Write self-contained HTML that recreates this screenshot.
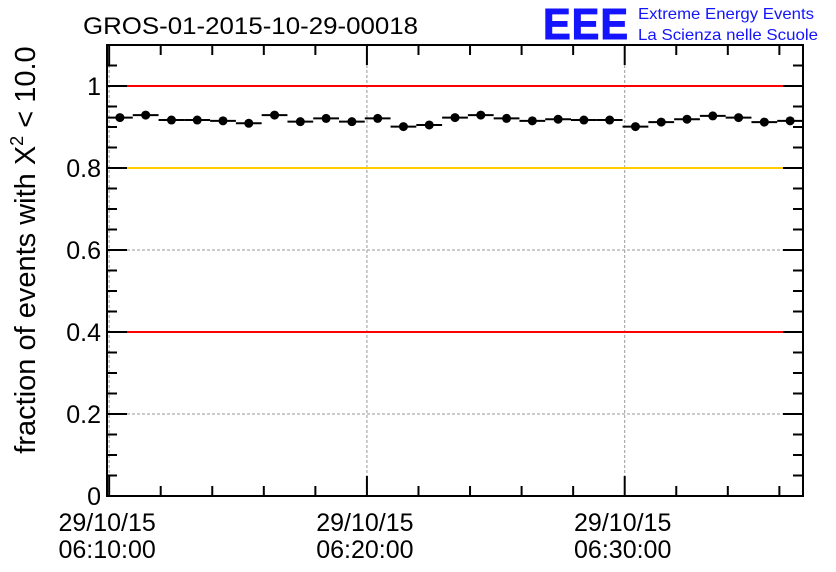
<!DOCTYPE html>
<html><head><meta charset="utf-8"><style>
body{margin:0;background:#fff;}
svg{display:block;font-family:"Liberation Sans",sans-serif;}
</style></head><body>
<svg id="chart" width="836" height="572" viewBox="0 0 836 572">
<text x="83" y="34" font-size="24.5" textLength="335" lengthAdjust="spacingAndGlyphs">GROS-01-2015-10-29-00018</text>
<g>
<text x="543" y="39" font-size="44" font-weight="bold" fill="#1414ff" stroke="#1414ff" stroke-width="1" letter-spacing="1" textLength="86" lengthAdjust="spacingAndGlyphs">EEE</text>
<text x="638" y="19" font-size="16" fill="#1414ff" textLength="176" lengthAdjust="spacingAndGlyphs">Extreme Energy Events</text>
<text x="638" y="40" font-size="16" fill="#1414ff" textLength="180" lengthAdjust="spacingAndGlyphs">La Scienza nelle Scuole</text>
</g>
<text transform="translate(35,250) rotate(-90)" text-anchor="middle" font-size="29">fraction of events with Χ<tspan dy="-12" font-size="18">2</tspan><tspan dy="12"> &lt; 10.0</tspan></text>
<g id="grid"></g><g id="refs"></g><g id="marks"></g><g id="axes"></g>
</svg>
<script>
const values=[0.923,0.929,0.917,0.917,0.915,0.909,0.929,0.913,0.921,0.913,0.921,0.901,0.905,0.923,0.929,0.921,0.915,0.919,0.917,0.917,0.901,0.912,0.919,0.927,0.923,0.912,0.915];
const yTicks=[0,0.2,0.4,0.6,0.8,1];
const yTickLabels=["0","0.2","0.4","0.6","0.8","1"];
const xTicks=[600,1200,1800];
const xTickLabels=[["29/10/15","06:10:00"],["29/10/15","06:20:00"],["29/10/15","06:30:00"]];
const refLines=[1.0,0.8,0.4];
const refColors=["#ff0000","#ffcc00","#ff0000"];
const binStart=595, binWidth=60;
const L=107,R=803,T=45,B=496,yMax=1.1;
const xMin=binStart,xMax=binStart+values.length*binWidth;
const X=t=>L+(t-xMin)/(xMax-xMin)*(R-L);
const Y=v=>B-v/yMax*(B-T);
const NS="http://www.w3.org/2000/svg";
function mk(p,tag,a){const e=document.createElementNS(NS,tag);for(const k in a)e.setAttribute(k,a[k]);p.appendChild(e);return e;}
const grid=document.getElementById('grid'),refs=document.getElementById('refs'),marks=document.getElementById('marks'),axes=document.getElementById('axes');
yTicks.forEach(v=>{if(v>0){const g=mk(grid,'line',{x1:L,x2:R,y1:Y(v),y2:Y(v),stroke:'#999','stroke-dasharray':'3,2','stroke-width':1});

}});
xTicks.forEach(t=>{const g=mk(grid,'line',{x1:X(t),x2:X(t),y1:T,y2:B,stroke:'#999','stroke-dasharray':'3,2','stroke-width':1});

});
refLines.forEach((v,i)=>{const l=mk(refs,'line',{x1:L,x2:R,y1:Y(v),y2:Y(v),stroke:refColors[i],'stroke-width':2});

});
values.forEach((v,i)=>{const x0=X(binStart+i*binWidth),x1=X(binStart+(i+1)*binWidth);
const h=mk(marks,'line',{x1:x0,x2:x1,y1:Y(v),y2:Y(v),stroke:'#000','stroke-width':2});


const c=mk(marks,'circle',{cx:(x0+x1)/2,cy:Y(v),r:4.5,fill:'#000'});

});
const f=mk(axes,'rect',{x:L,y:T,width:R-L,height:B-T,fill:'none',stroke:'#000','stroke-width':2});


for(let k=0;k<=22;k++){const v=k*0.05;const len=(k%4===0)?20:10;
mk(axes,'line',{x1:L,x2:L+len,y1:Y(v),y2:Y(v),stroke:'#000','stroke-width':2});
mk(axes,'line',{x1:R,x2:R-len,y1:Y(v),y2:Y(v),stroke:'#000','stroke-width':2});}
yTicks.forEach((v,i)=>{const t=mk(axes,'text',{x:L-6,y:Y(v)+9,'text-anchor':'end','font-size':25});t.textContent=yTickLabels[i];

});
for(let t=600;t<=xMax;t+=120){const major=((t-600)%600===0);const len=major?20:10;
mk(axes,'line',{x1:X(t),x2:X(t),y1:B,y2:B-len,stroke:'#000','stroke-width':2});
mk(axes,'line',{x1:X(t),x2:X(t),y1:T,y2:T+len,stroke:'#000','stroke-width':2});}
xTicks.forEach((t,i)=>{const tx=mk(axes,'text',{x:X(t),y:531,'text-anchor':'middle','font-size':25});


xTickLabels[i].forEach((s,j)=>{const ts=mk(tx,'tspan',{x:X(t)-2,dy:j?27:0});ts.textContent=s;});});
</script>
</body></html>
